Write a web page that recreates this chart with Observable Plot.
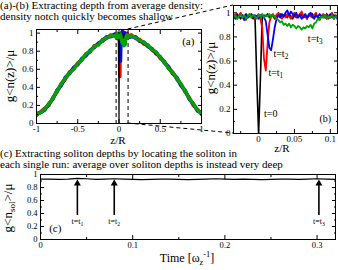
<!DOCTYPE html>
<html><head><meta charset="utf-8">
<script src="https://cdn.jsdelivr.net/npm/d3@7"></script>
<script src="https://cdn.jsdelivr.net/npm/@observablehq/plot@0.6"></script>
<style>
body{margin:0;background:#fff;}
#root{position:relative;width:338px;height:270px;overflow:hidden;font-family:"Liberation Serif","Times New Roman",serif;color:#000;background:#fff;}
.title{position:absolute;left:0;font-size:11px;white-space:nowrap;z-index:5;}
.lab{position:absolute;white-space:nowrap;line-height:1;transform:translate(-50%,-50%);z-index:5;}
.rot{transform:translate(-50%,-50%) rotate(-90deg);}
.lab sub,.lab sup{font-size:0.7em;}
svg.pl{position:absolute;}
</style></head><body><div id="root"></div>
<script>
// ---------- Panel (a): z grid and profiles (coarse) ----------
const aZ = [-1,-0.95,-0.9,-0.85,-0.8,-0.75,-0.7,-0.65,-0.6,-0.55,-0.5,-0.45,-0.4,-0.35,-0.3,-0.25,-0.2,-0.15,-0.1,-0.05,0,0.05,0.1,0.15,0.2,0.25,0.3,0.35,0.4,0.45,0.5,0.55,0.6,0.65,0.7,0.75,0.8,0.85,0.9,0.95,1];
const aRed   = [0.09,0.13,0.17,0.20,0.29,0.35,0.44,0.49,0.57,0.60,0.67,0.70,0.77,0.79,0.86,0.87,0.93,0.94,0.98,0.97,0.99,0.97,0.98,0.98,0.94,0.93,0.88,0.87,0.81,0.79,0.72,0.69,0.61,0.57,0.49,0.44,0.35,0.29,0.20,0.16,0.10];
const aBlue  = [0.11,0.12,0.15,0.22,0.27,0.37,0.42,0.51,0.55,0.62,0.65,0.72,0.75,0.81,0.84,0.89,0.91,0.96,0.96,0.99,0.98,0.99,0.97,0.96,0.96,0.91,0.90,0.85,0.83,0.77,0.74,0.67,0.63,0.55,0.51,0.42,0.37,0.27,0.22,0.14,0.12];
const aGreen = [0.10,0.12,0.16,0.22,0.28,0.36,0.44,0.50,0.56,0.60,0.66,0.71,0.77,0.80,0.85,0.87,0.92,0.95,0.97,0.97,0.98,0.97,0.97,0.97,0.95,0.92,0.90,0.86,0.82,0.79,0.73,0.68,0.61,0.56,0.50,0.44,0.36,0.28,0.22,0.15,0.11];

// ---------- Panel (b): zoomed profiles ----------
const bZ = [-0.035,-0.0325,-0.03,-0.0275,-0.025,-0.0225,-0.02,-0.0175,-0.015,-0.0125,-0.01,-0.0075,-0.005,-0.0025,0,0.0025,0.005,0.0075,0.01,0.0125,0.015,0.0175,0.02,0.0225,0.025,0.0275,0.03,0.0325,0.035,0.0375,0.04,0.0425,0.045,0.0475,0.05,0.0525,0.055,0.0575,0.06,0.0625,0.065,0.0675,0.07,0.0725,0.075,0.0775,0.08,0.0825,0.085,0.0875,0.09,0.0925,0.095,0.0975,0.1,0.1025,0.105,0.1075,0.11];
const bBlack = [0.98,0.96,0.99,0.97,0.95,0.98,0.97,0.99,0.96,0.98, 0.97,0.95,0.96,0.45,0.00,0.45,0.96,0.98,0.97,0.99, 0.96,0.98,0.97,0.95,0.98,0.97,0.99,0.96,0.97,0.98, 0.96,0.99,0.97,0.95,0.98,0.96,0.97,0.99,0.98,0.96, 0.97,0.95,0.98,0.97,0.99,0.96,0.98,0.97,0.95,0.97, 0.98,0.96,0.99,0.97,0.96,0.98,0.95,0.97,0.98];
const bRed   = [0.96,0.99,0.95,0.98,1.00,0.96,0.97,0.94,0.98,0.99, 0.96,0.98,0.95,0.97,0.99,0.95,0.88,0.62,0.52,0.74, 0.92,0.97,0.99,0.96,0.98,1.00,0.97,0.95,0.98,0.96, 0.99,0.97,0.95,0.98,1.00,0.97,0.96,0.99,1.01,0.97, 0.98,0.95,0.99,0.97,0.96,0.98,1.00,0.96,0.94,0.97, 0.99,0.96,0.98,0.95,0.97,1.00,0.96,0.98,0.95];
const bBlue  = [0.97,0.95,0.98,0.96,0.99,0.97,0.94,0.98,0.96,0.97, 0.99,0.96,0.98,0.97,0.95,0.98,0.97,0.96,0.93,0.82, 0.71,0.69,0.78,0.88,0.95,0.98,0.96,0.99,0.97,1.00, 1.02,0.98,1.01,0.99,0.97,1.00,0.96,0.98,0.95,0.97, 0.99,0.96,0.98,1.00,0.97,0.95,0.98,0.96,0.99,0.97, 0.96,0.98,0.95,0.97,0.99,0.96,0.98,0.97,0.95];
const bGreen = [0.96,0.98,0.95,0.97,0.99,0.96,0.98,0.95,0.97,0.99, 0.96,0.98,0.97,0.95,0.98,0.97,0.99,0.96,0.98,0.97, 0.99,0.96,0.98,0.97,0.95,0.94,0.92,0.93,0.90,0.91, 0.89,0.91,0.88,0.90,0.89,0.87,0.89,0.88,0.86,0.88, 0.87,0.89,0.88,0.90,0.87,0.91,0.92,0.95,0.94,0.97, 0.96,0.98,0.95,0.97,0.96,0.98,0.95,0.97,0.96];

// ---------- Panel (c): average soliton depth vs time ----------
const cT = [0,0.01,0.02,0.03,0.04,0.05,0.06,0.07,0.08,0.09,0.1,0.11,0.12,0.13,0.14,0.15,0.16,0.17,0.18,0.19,0.2,0.21,0.22,0.23,0.24,0.25,0.26,0.27,0.28,0.29,0.3,0.31,0.32];
const cV = [0.93,0.93,0.925,0.93,0.94,0.935,0.925,0.93,0.935,0.93, 0.925,0.92,0.925,0.93,0.93,0.925,0.92,0.925,0.93,0.935, 0.93,0.925,0.93,0.925,0.92,0.925,0.93,0.93,0.925,0.93, 0.935,0.93,0.925];
const arrowT = [0.04, 0.08, 0.302];
const arrowLabels = ["t=t_1", "t=t_2", "t=t_3"];
const arrowFrom = 0.37, arrowTo = 0.86, arrowLabelV = 0.28;

// ---------- ticks ----------
const yTicks = [0,0.2,0.4,0.6,0.8,1], yMinor = [0.1,0.3,0.5,0.7,0.9];
const xTicksA = [-1,-0.5,0,0.5,1], xMinorA = [-0.75,-0.25,0.25,0.75];
const xTicksB = [0,0.05,0.1], xMinorB = [-0.025,0.025,0.075];
const xTicksC = [0,0.1,0.2,0.3], xMinorC = [0.05,0.15,0.25];

// annotations
const notesA = [{text:"(a)", z:0.84, v:0.91}];
const notesB = [{text:"t=t_3", z:0.079, v:0.785},{text:"t=t_2", z:0.031, v:0.66},{text:"t=t_1", z:0.024, v:0.50},{text:"t=0", z:0.017, v:0.16},{text:"(b)", z:0.093, v:0.12}];
const notesC = [{text:"(c)", t:0.016, v:0.17}];

const bLo = bZ[0], bHi = bZ[bZ.length-1];
function seriesA(coarse, fine){
  const pts = [];
  aZ.forEach((z,i)=>{ if (z < bLo || z > bHi) pts.push({z, v: coarse[i]}); });
  bZ.forEach((z,i)=>pts.push({z, v: fine[i]}));
  return pts.sort((a,b)=>a.z-b.z);
}
const bSeries = arr => bZ.map((z,i)=>({z, v: arr[i]}));
const fmt = d => String(d);
const blank = () => "";
function boxAxes(xt, xm, yt, ym){
  return [
    Plot.axisX(xt, {anchor:"bottom", tickSize:-4, tickPadding:6, tickFormat:fmt, label:null}),
    Plot.axisX(xm, {anchor:"bottom", tickSize:-2, tickFormat:blank, label:null}),
    Plot.axisX(xt, {anchor:"top", tickSize:-4, tickFormat:blank, label:null}),
    Plot.axisX(xm, {anchor:"top", tickSize:-2, tickFormat:blank, label:null}),
    Plot.axisY(yt, {anchor:"left", tickSize:-4, tickPadding:7, tickFormat:fmt, label:null}),
    Plot.axisY(ym, {anchor:"left", tickSize:-2, tickFormat:blank, label:null}),
    Plot.axisY(yt, {anchor:"right", tickSize:-4, tickFormat:blank, label:null}),
    Plot.axisY(ym, {anchor:"right", tickSize:-2, tickFormat:blank, label:null}),
    Plot.frame({stroke:"black", strokeWidth:1})
  ];
}
const RED="#ff0000", BLUE="#0000ff", GREEN="#00a000";

const plotA = Plot.plot({
  width:232, height:150, marginLeft:36, marginRight:31, marginTop:29, marginBottom:27,
  x:{domain:[-1,1]}, y:{domain:[0,1.04]},
  style:{fontFamily:"Liberation Serif", fontSize:"9px", background:"transparent", color:"black", overflow:"visible"},
  marks:[
    Plot.ruleX([bLo, bHi], {stroke:"black", strokeDasharray:"4,3", strokeWidth:1}),
    Plot.line(seriesA(aRed, bRed), {x:"z", y:"v", stroke:RED, strokeWidth:3.5, clip:true}),
    Plot.line(seriesA(aBlue, bBlue), {x:"z", y:"v", stroke:BLUE, strokeWidth:3.5, clip:true}),
    Plot.line(bSeries(bBlack), {x:"z", y:"v", stroke:"black", strokeWidth:1.2, clip:true}),
    Plot.line(seriesA(aGreen, bGreen), {x:"z", y:"v", stroke:GREEN, strokeWidth:3.5, clip:true}),
    Plot.text(notesA, {x:"z", y:"v", text:"text", fontSize:11}),
    ...boxAxes(xTicksA, xMinorA, yTicks, yMinor)
  ]
});

const plotB = Plot.plot({
  width:138, height:155, marginLeft:33, marginRight:1, marginTop:5, marginBottom:22,
  x:{domain:[bLo, bHi]}, y:{domain:[0,1.06]},
  style:{fontFamily:"Liberation Serif", fontSize:"9px", background:"transparent", color:"black", overflow:"visible"},
  marks:[
    Plot.line(bSeries(bBlack), {x:"z", y:"v", stroke:"black", strokeWidth:1.6, clip:true}),
    Plot.line(bSeries(bRed), {x:"z", y:"v", stroke:RED, strokeWidth:1.8, clip:true}),
    Plot.line(bSeries(bBlue), {x:"z", y:"v", stroke:BLUE, strokeWidth:1.8, clip:true}),
    Plot.line(bSeries(bGreen), {x:"z", y:"v", stroke:GREEN, strokeWidth:1.8, clip:true}),
    Plot.text(notesB, {x:"z", y:"v", text:"text", fontSize:10}),
    ...boxAxes(xTicksB, xMinorB, yTicks, yMinor)
  ]
});

const plotC = Plot.plot({
  width:338, height:120, marginLeft:40, marginRight:3, marginTop:24, marginBottom:31,
  x:{domain:[0,0.32]}, y:{domain:[0,1]},
  style:{fontFamily:"Liberation Serif", fontSize:"8.5px", background:"transparent", color:"black", overflow:"visible"},
  marks:[
    Plot.line(cT.map((t,i)=>({t, v:cV[i]})), {x:"t", y:"v", stroke:"black", strokeWidth:1.2}),
    Plot.ruleX(arrowT, {x:d=>d, y1:arrowFrom, y2:arrowTo, stroke:"black", strokeWidth:1.6}),
    Plot.dot(arrowT, {x:d=>d, y:arrowTo, symbol:"triangle", r:2.6, fill:"black", stroke:"none"}),
    Plot.text(arrowT, {x:d=>d, y:arrowLabelV, text:(d,i)=>arrowLabels[i], fontSize:8}),
    Plot.text(notesC, {x:"t", y:"v", text:"text", fontSize:11}),
    ...boxAxes(xTicksC, xMinorC, yTicks, yMinor)
  ]
});

function subify(svg){
  svg.querySelectorAll("text").forEach(t=>{
    const s = t.textContent; const m = s.match(/^(.*)_(.+)$/);
    if (!m || t.children.length) return;
    t.textContent = "";
    t.append(document.createTextNode(m[1]));
    const ts = document.createElementNS("http://www.w3.org/2000/svg","tspan");
    ts.setAttribute("dy","0.3em"); ts.setAttribute("font-size","0.72em"); ts.textContent = m[2];
    t.append(ts);
  });
}

const root = document.getElementById("root");
const place = [[plotA,0,0],[plotB,200,0],[plotC,0,150]];
place.forEach(([p,l,t])=>{ p.classList.add("pl"); p.style.left=l+"px"; p.style.top=t+"px"; subify(p); root.appendChild(p); });

// dashed connectors between zoom box in (a) and panel (b)
const ax = plotA.scale("x"), ay = plotA.scale("y"), bx = plotB.scale("x"), by = plotB.scale("y");
const conn = [
  [ax.apply(bHi)+0, ay.apply(ay.domain[1])+0, bx.apply(bLo)+200, by.apply(by.domain[1])+0],
  [ax.apply(bHi)+0, ay.apply(0)+0, bx.apply(bLo)+200, by.apply(0)+0]
];
const ov = d3.select(root).append("svg").attr("width",338).attr("height",270)
  .style("position","absolute").style("left","0px").style("top","0px").style("z-index",4);
ov.selectAll("line").data(conn).join("line")
  .attr("x1",d=>d[0]).attr("y1",d=>d[1]).attr("x2",d=>d[2]).attr("y2",d=>d[3])
  .attr("stroke","black").attr("stroke-width",1).attr("stroke-dasharray","4,3");

function addDiv(cls, html, css){ const d=document.createElement("div"); d.className=cls; d.innerHTML=html; Object.assign(d.style, css); root.appendChild(d); }
addDiv("title","(a)-(b) Extracting depth from average density:<br>density notch quickly becomes shallow",{top:"0px", lineHeight:"11px"});
addDiv("title","(c) Extracting soliton depths by locating the soliton in<br>each single run: average over soliton depths is instead very deep",{top:"147.5px", lineHeight:"11px"});
addDiv("lab","z/R",{left:"118px", top:"139.5px", fontSize:"11px"});
addDiv("lab","z/R",{left:"282px", top:"148px", fontSize:"11px"});
addDiv("lab","Time [ω<sub>z</sub><sup>-1</sup>]",{left:"187px", top:"259px", fontSize:"12px"});
addDiv("lab rot","g&lt;n(z)&gt;/μ",{left:"9px", top:"76px", fontSize:"13px"});
addDiv("lab rot","g&lt;n(z)&gt;/μ",{left:"210px", top:"68px", fontSize:"13px"});
addDiv("lab rot","g&lt;n<sub>sol</sub>&gt;/μ",{left:"9px", top:"208px", fontSize:"13px"});
</script></body></html>
